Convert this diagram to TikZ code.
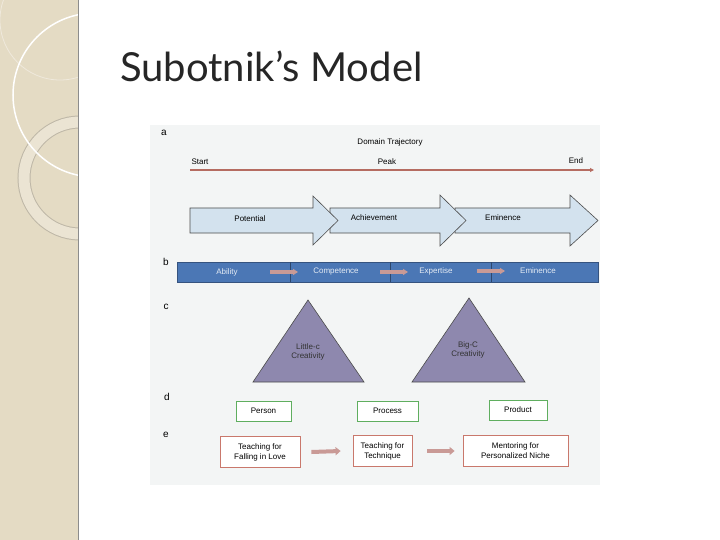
\documentclass[tikz,border=0pt]{standalone}
\usepackage{fontspec}
\setmainfont{Liberation Sans}
\newfontfamily\titlefont{Lato}
\usetikzlibrary{arrows.meta,shapes.arrows}
\definecolor{strip}{HTML}{E4DBC4}
\definecolor{figbg}{HTML}{F3F5F5}
\definecolor{lblue}{HTML}{D3E2EE}
\definecolor{barblue}{HTML}{4B77B5}
\definecolor{tri}{HTML}{8E88AE}
\definecolor{gbox}{HTML}{5FAE5F}
\definecolor{rbox}{HTML}{C9786C}
\definecolor{parrow}{HTML}{C99A96}
\tikzset{
  lbl/.style={font=\fontsize{8}{9}\selectfont, inner sep=0pt},
  letter/.style={font=\fontsize{10}{11}\selectfont, inner sep=0pt},
  bigarrow/.style={draw=black!70, fill=lblue, line width=0.6pt},
  gboxs/.style={draw=gbox, fill=white, line width=0.7pt, minimum height=20pt, font=\fontsize{8}{9}\selectfont, inner sep=1pt},
  rboxs/.style={draw=rbox, fill=white, line width=0.8pt, minimum height=31pt, align=center, font=\fontsize{8}{10}\selectfont, inner sep=1pt},
  parr/.style={-{Triangle[length=5pt,width=8pt]}, line width=4pt, draw=parrow},
  tris/.style={draw=black!70, fill=tri, line width=0.6pt},
}
\begin{document}
\begin{tikzpicture}[x=1pt,y=-1pt]
\useasboundingbox (0,0) rectangle (720,540);
\fill[white] (0,0) rectangle (720,540);
% left strip
\begin{scope}
\clip (0,0) rectangle (78,540);
\fill[strip] (0,0) rectangle (78,540);
\draw[white!40!strip, line width=0.8pt] (60,20) circle (60);
\draw[strip!80!black!90, line width=13pt] (80,178) circle (56);
\draw[white!25!strip, line width=11pt] (80,178) circle (56);
\draw[white, line width=1.5pt] (95,95) circle (82);
\end{scope}
\draw[black!45, line width=1pt] (78,0) -- (78,540);
% title
\node[anchor=base west, inner sep=0pt, font=\titlefont\fontsize{40}{44}\selectfont, text=black!85] (title) at (120,82) {Subotnik’s Model};
% figure background
\fill[figbg] (150,125) rectangle (600,485);
% a
\node[letter] (la) at (164,133) {a};
\node[lbl] (dt) at (390,142) {Domain Trajectory};
\node[lbl] (st) at (200,162) {Start};
\node[lbl] (pk) at (387,162) {Peak};
\node[lbl] (en) at (576,161) {End};
\coordinate (rl0) at (190,170);
\coordinate (rl1) at (594,170);
\draw[draw=rbox!90!black, line width=1.3pt, -{Triangle[length=4pt,width=4pt]}] (rl0) -- (rl1);
% big arrows
\draw[bigarrow] (455,208) -- (570,208) -- (570,195) -- (598,220.5) -- (570,246) -- (570,233) -- (455,233) -- cycle;
\draw[bigarrow] (330,208) -- (440,208) -- (440,195) -- (466,220.5) -- (440,246) -- (440,233) -- (330,233) -- cycle;
\draw[bigarrow] (190,208) -- (313,208) -- (313,196) -- (338,220.5) -- (313,245) -- (313,233) -- (190,233) -- cycle;
\node[lbl] (pot) at (250,219) {Potential};
\node[lbl] (ach) at (374,218) {Achievement};
\node[lbl] (emi) at (503,218) {Eminence};
% b
\node[letter] (lb) at (166,262) {b};
\draw[fill=barblue, draw=barblue!70!black, line width=0.6pt] (177,262) rectangle (598,282);
\draw[barblue!60!black] (290,262) -- (290,282) (390,262) -- (390,282) (491,262) -- (491,282);
\node[lbl, text=white!85!barblue] (ab) at (227,272) {Ability};
\node[lbl, text=white!85!barblue] (co) at (336,272) {Competence};
\node[lbl, text=white!85!barblue] (ex) at (436,271) {Expertise};
\node[lbl, text=white!85!barblue] (em) at (538,271) {Eminence};
\draw[parr, line width=4pt, -{Triangle[length=5pt,width=6pt]}] (270,272) -- (298,272);
\draw[parr, line width=4pt, -{Triangle[length=5pt,width=6pt]}] (380,272) -- (408,272);
\draw[parr, line width=4pt, -{Triangle[length=5pt,width=6pt]}] (477,271) -- (505,271);
% c
\node[letter] (lc) at (166,307) {c};
\draw[tris] (308,300) -- (364,382) -- (253,382) -- cycle;
\draw[tris] (469,298) -- (525,382) -- (412,382) -- cycle;
\node[lbl, align=center, text=black!80] (lit) at (308,352) {Little-c\\Creativity};
\node[lbl, align=center, text=black!80] (big) at (468,350) {Big-C\\Creativity};
% d
\node[letter] (ld) at (167,397) {d};
\node[gboxs, minimum width=55pt] (per) at (263.5,411) {Person};
\node[gboxs, minimum width=61pt] (pro) at (387.5,411) {Process};
\node[gboxs, minimum width=58pt] (prd) at (518,410) {Product};
% e
\node[letter] (le) at (166,435) {e};
\node[rboxs, minimum width=80pt] (t1) at (260,452) {Teaching for\\Falling in Love};
\node[rboxs, minimum width=59pt] (t2) at (382.5,451) {Teaching for\\Technique};
\node[rboxs, minimum width=105pt] (t3) at (515.5,451) {Mentoring for\\Personalized Niche};
\draw[parr] ([xshift=11pt]t1.east) -- ([xshift=-12pt]t2.west);
\draw[parr] ([xshift=15pt]t2.east) -- ([xshift=-8pt]t3.west);
\end{tikzpicture}
\end{document}
